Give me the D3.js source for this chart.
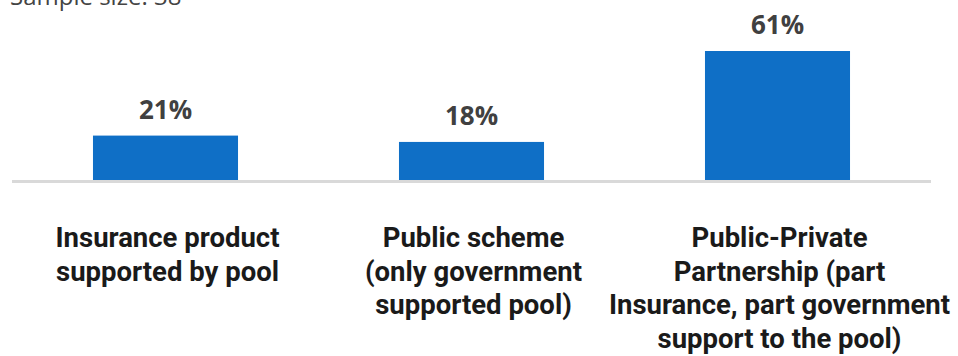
<!DOCTYPE html>
<html>
<head>
<meta charset="utf-8">
<script src="https://cdn.jsdelivr.net/npm/d3@7/dist/d3.min.js"></script>
<style>
  html, body { margin: 0; padding: 0; background: #ffffff; }
  svg { display: block; }
</style>
</head>
<body>
<svg id="chart" width="958" height="356"></svg>
<script>
// Survey result: preferred structure for the pool
const categories = [
  "Insurance product supported by pool",
  "Public scheme (only government supported pool)",
  "Public-Private Partnership (part Insurance, part government support to the pool)"
];
const categoryLines = [
  ["Insurance product", "supported by pool"],
  ["Public scheme", "(only government", "supported pool)"],
  ["Public-Private", "Partnership (part", "Insurance, part government", "support to the pool)"]
];
const shares = [21, 18, 61];
const sampleNote = "Sample size: 38";

const svg = d3.select("#chart");
const W = 958, H = 356;

const x = d3.scaleBand()
  .domain(categories)
  .range([12.5, 930.5])
  .paddingInner(0.526)
  .paddingOuter(0.263);

const y = d3.scaleLinear()
  .domain([0, d3.max(shares)])
  .range([180, 51]);

// sample size note, partly above the top edge
svg.append("text")
  .attr("x", 10)
  .attr("y", 5)
  .attr("font-family", "'Open Sans', sans-serif")
  .attr("font-size", 24)
  .attr("fill", "#444")
  .text(sampleNote);

// bars
svg.append("g")
  .selectAll("rect")
  .data(categories)
  .join("rect")
  .attr("x", d => x(d))
  .attr("width", x.bandwidth())
  .attr("y", (d, i) => y(shares[i]))
  .attr("height", (d, i) => y(0) - y(shares[i]))
  .attr("fill", "#0f6fc6");

// baseline
svg.append("line")
  .attr("x1", 12)
  .attr("x2", 931)
  .attr("y1", y(0) + 1.5)
  .attr("y2", y(0) + 1.5)
  .attr("stroke", "#d9d9d9")
  .attr("stroke-width", 3);

// value labels
svg.append("g")
  .selectAll("text")
  .data(categories)
  .join("text")
  .attr("x", d => x(d) + x.bandwidth() / 2)
  .attr("y", (d, i) => y(shares[i]) - 17)
  .attr("text-anchor", "middle")
  .attr("font-family", "'Open Sans', sans-serif")
  .attr("font-weight", 700)
  .attr("font-size", 26)
  .attr("fill", "#404040")
  .text((d, i) => shares[i] + "%");

// category labels under the axis
const labels = svg.append("g")
  .selectAll("text")
  .data(categories)
  .join("text")
  .attr("text-anchor", "middle")
  .attr("font-family", "Roboto, sans-serif")
  .attr("font-weight", 700)
  .attr("font-size", 27.5)
  .attr("fill", "#1a1a1a")
  .attr("transform", d => `translate(${x(d) + x.bandwidth() / 2 + 2},247)`);

labels.selectAll("tspan")
  .data((d, i) => categoryLines[i])
  .join("tspan")
  .attr("x", 0)
  .attr("y", (d, j) => j * 33.5)
  .text(d => d);
</script>
</body>
</html>
